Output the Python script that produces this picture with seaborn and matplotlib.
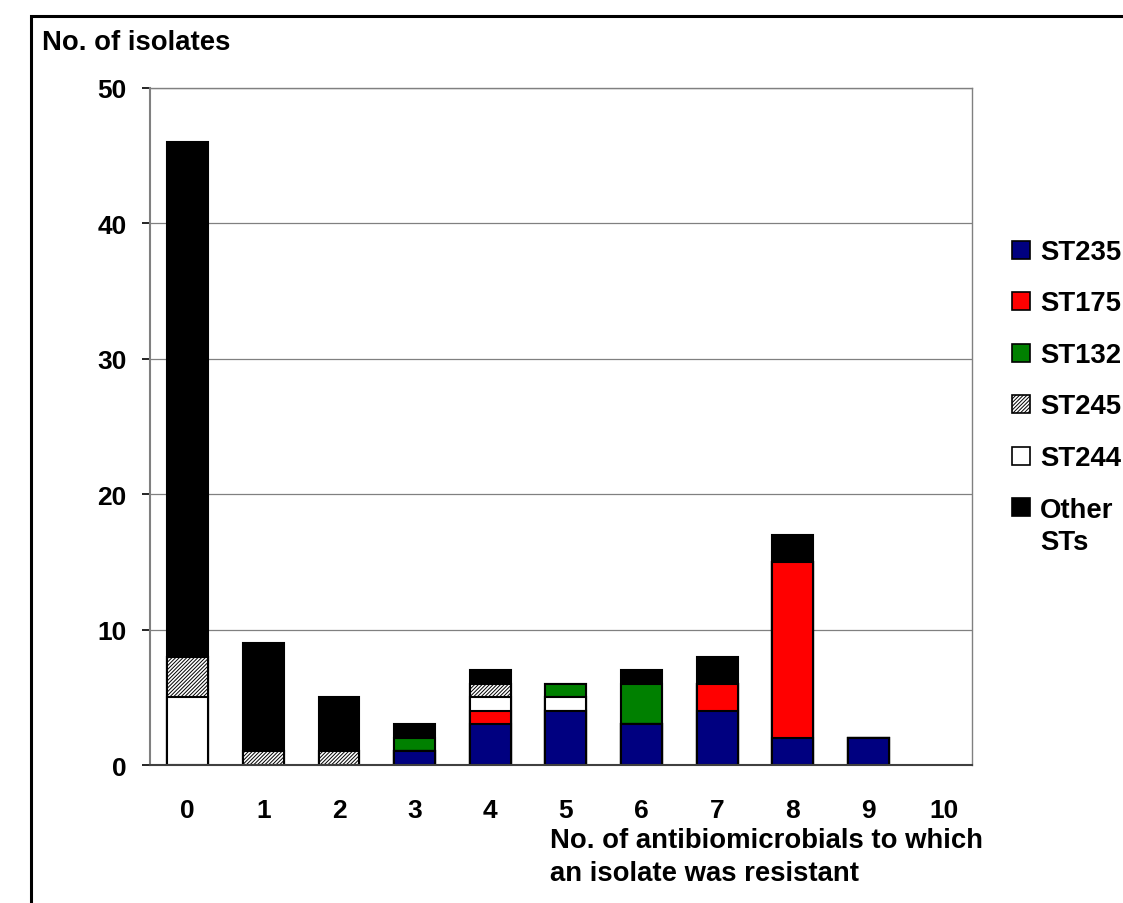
import numpy as np
import pandas as pd
import matplotlib.pyplot as plt
from matplotlib.patches import Rectangle
import seaborn as sns

# number of antibiomicrobials an isolate was resistant to
categories = ['0', '1', '2', '3', '4', '5', '6', '7', '8', '9', '10']

# isolates per sequence type, stacked bottom to top in this order
st235 = [0, 0, 0, 1, 3, 4, 3, 4, 2, 2, 0]
st175 = [0, 0, 0, 0, 1, 0, 0, 2, 13, 0, 0]
st244 = [5, 0, 0, 0, 1, 1, 0, 0, 0, 0, 0]
st245 = [3, 1, 1, 0, 1, 0, 0, 0, 0, 0, 0]
st132 = [0, 0, 0, 1, 0, 1, 3, 0, 0, 0, 0]
other = [38, 8, 4, 1, 1, 0, 1, 2, 2, 0, 0]

stack_names = ['ST235', 'ST175', 'ST244', 'ST245', 'ST132', 'Other STs']
stack_values = [st235, st175, st244, st245, st132, other]
colors = {'ST235': '#000080', 'ST175': '#ff0000', 'ST132': '#008000',
          'ST245': 'white', 'ST244': 'white', 'Other STs': 'black'}
legend_order = ['ST235', 'ST175', 'ST132', 'ST245', 'ST244', 'Other STs']
hatch = '/////////'

sns.set_style("white")
plt.rcParams['font.family'] = ['Liberation Sans', 'DejaVu Sans']
plt.rcParams['font.weight'] = 'bold'
plt.rcParams['font.size'] = 19.8
plt.rcParams['text.color'] = 'black'
plt.rcParams['xtick.color'] = 'black'
plt.rcParams['ytick.color'] = 'black'
plt.rcParams['hatch.linewidth'] = 0.7

df = pd.DataFrame(dict(zip(stack_names, stack_values)), index=categories)
cum = df.cumsum(axis=1)

W, H = 1123, 904
fig = plt.figure(figsize=(W / 100, H / 100), dpi=100)
ax = fig.add_axes([150 / W, 1 - 766 / H, (972 - 150) / W, (766 - 89) / H])

# draw cumulative bars from the top layer down so each lower layer covers the one above
for name in reversed(stack_names):
    n_before = len(ax.patches)
    sns.barplot(x=categories, y=cum[name].values, order=categories, color=colors[name],
                saturation=1, width=0.54, edgecolor='black', linewidth=1.5,
                errorbar=None, ax=ax)
    for p in ax.patches[n_before:]:
        if name == 'ST245':
            p.set_hatch(hatch)
        if p.get_height() == 0:
            p.set_linewidth(0)

# the category axis stops a little short of the last slot, as in the original
x_right = 10.37
ax.set_xlim(-0.5, x_right)
ax.set_ylim(0, 50)
ax.set_yticks(range(0, 51, 10))
ax.set_axisbelow(True)
ax.yaxis.grid(True, color='#808080', lw=0.9)
ax.set_xlabel('')
ax.set_ylabel('')

ax.set_xticks(range(len(categories)))
ax.set_xticklabels(categories, fontweight='bold', fontsize=19)
ax.set_xticks(list(np.arange(-0.5, 10, 1)) + [x_right], minor=True)
ax.tick_params(axis='x', which='major', length=0, pad=24)
ax.tick_params(axis='x', which='minor', length=7, width=1.2, color='#404040', direction='out')
ax.tick_params(axis='y', length=6, width=1.2, color='black', direction='out', pad=11,
               left=True, labelsize=19)

for side in ['top', 'right', 'left']:
    ax.spines[side].set_color('#808080')
    ax.spines[side].set_linewidth(1.0)
ax.spines['left'].set_linewidth(1.5)
ax.spines['bottom'].set_color('#404040')
ax.spines['bottom'].set_linewidth(1.5)

# va='baseline' on multi-line text pins the last line's baseline
fig.text(42 / W, 1 - 50 / H, 'No. of isolates', ha='left', va='baseline')
fig.text(550 / W, 1 - 881 / H, 'No. of antibiomicrobials to which\nan isolate was resistant',
         ha='left', va='baseline', linespacing=1.35)

# legend drawn as squares and labels next to the plot
for i, name in enumerate(legend_order):
    yc = 251 + 51.4 * i
    fig.add_artist(Rectangle((1012 / W, 1 - (yc + 9) / H), 18 / W, 18 / H,
                             transform=fig.transFigure, facecolor=colors[name],
                             edgecolor='black', linewidth=1.2,
                             hatch=hatch if name == 'ST245' else None))
    label = 'Other\nSTs' if name == 'Other STs' else name
    base = yc + 9 + 33 * label.count('\n')
    fig.text(1040 / W, 1 - base / H, label, ha='left', va='baseline', linespacing=1.32)

# outer frame around the figure panel
fig.add_artist(Rectangle((31 / W, -0.1), 1.2, 1.1 - 17 / H, transform=fig.transFigure,
                         fill=False, edgecolor='black', linewidth=2.2, clip_on=False))

fig.savefig('out.png', dpi=100)
